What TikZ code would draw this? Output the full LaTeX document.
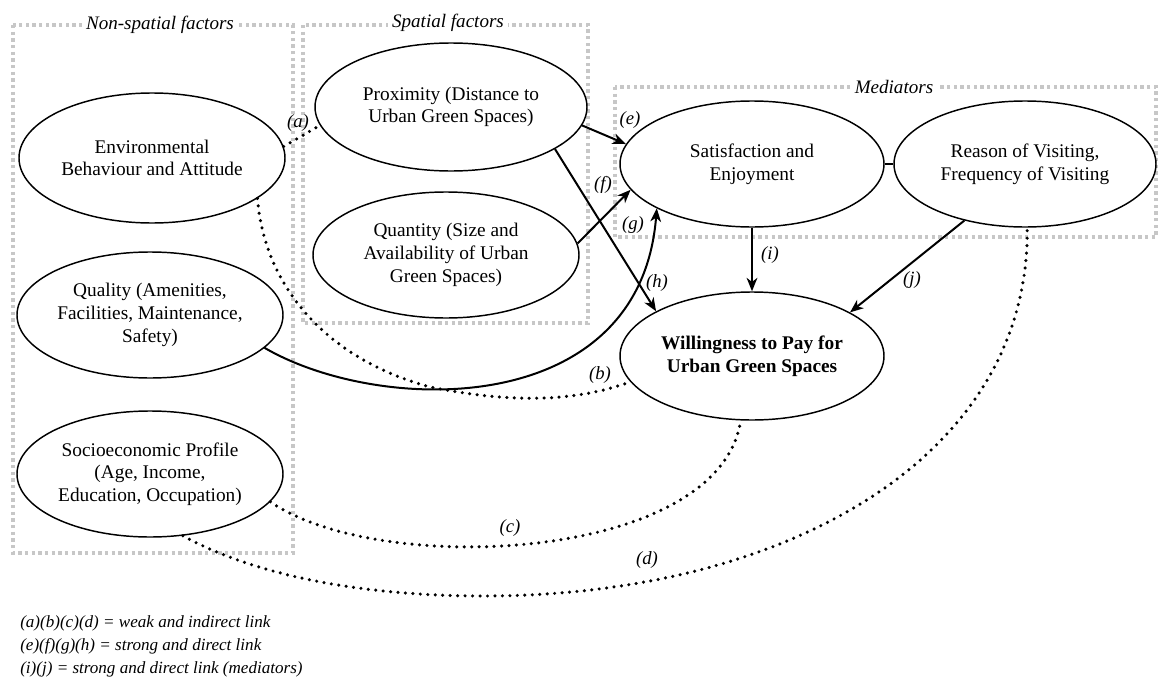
\documentclass[tikz,border=0pt]{standalone}
\usepackage{fontspec}
\setmainfont{Liberation Serif}
\usetikzlibrary{arrows.meta,shapes.geometric}
\begin{document}
\begin{tikzpicture}[x=0.75pt,y=-0.75pt,
  ell/.style 2 args={ellipse,draw,fill=white,line width=1.1pt,inner sep=0pt,
    minimum width=#1*0.75pt,minimum height=#2*0.75pt,align=center,
    font=\fontsize{14.5}{17}\selectfont},
  grp/.style={draw=black!22,line width=2.6pt,dash pattern=on 2.4pt off 2.6pt},
  grplab/.style={fill=white,inner xsep=3pt,inner ysep=1pt,font=\fontsize{14.3}{17}\selectfont\itshape},
  strongarr/.style={line width=1.5pt,-{Stealth[length=10pt,width=8pt,inset=3pt]}},
  weak/.style={line width=2.6pt,dash pattern=on 0pt off 5.6pt,line cap=round},
  lab/.style={font=\fontsize{14}{16}\selectfont\itshape,inner sep=1pt},
  leg/.style={anchor=base west,inner sep=0pt,font=\fontsize{12.8}{16}\selectfont\itshape}]
\useasboundingbox (0,0) rectangle (1158,678);

% group boxes
\draw[grp] (13,25) rectangle (293,553);
\draw[grp] (303,25) rectangle (588,323);
\draw[grp] (615,87) rectangle (1156,237);
\node[grplab] (nslab) at (160,25) {Non-spatial factors};
\node[grplab] (splab) at (448,23) {Spatial factors};
\node[grplab] (mdlab) at (894,87) {Mediators};

% ellipses
\node[ell={266}{130}] (env) at (152,158) {Environmental\\Behaviour and Attitude};
\node[ell={272}{128}] (prox) at (451,107) {Proximity (Distance to\\Urban Green Spaces)};
\node[ell={266}{126}] (quant) at (446,255) {Quantity (Size and\\Availability of Urban\\Green Spaces)};
\node[ell={266}{126}] (qual) at (150,315) {Quality (Amenities,\\Facilities, Maintenance,\\Safety)};
\node[ell={266}{126}] (socio) at (150,474) {Socioeconomic Profile\\(Age, Income,\\Education, Occupation)};
\node[ell={264}{126}] (sat) at (752,164) {Satisfaction and\\Enjoyment};
\node[ell={262}{126}] (reason) at (1025,164) {Reason of Visiting,\\Frequency of Visiting};
\node[ell={264}{128}] (wtp) at (752,356) {\bfseries Willingness to Pay for\\\bfseries Urban Green Spaces};

% weak links
\draw[weak] (env.5) -- (prox.-172);
\draw[weak] (env.-21) .. controls (265,290) and (330,360) .. (430,387)
  .. controls (520,405) and (580,400) .. (wtp.-168);
\draw[weak] (socio.-13) .. controls (380,578) and (720,562) .. (wtp.-100);
\draw[weak] (socio.-62) .. controls (260,578) and (370,596) .. (483,596)
  .. controls (790,596) and (1030,455) .. (reason.-88);

% strong links
\draw[strongarr] (prox.-8) -- (sat.171);
\draw[strongarr] (quant.5) -- (sat.-168);
\draw[strongarr] (prox.-22) -- (wtp.155);
\draw[strongarr] (qual.-16) .. controls (380,415) and (640,420) .. (sat.-155);
\draw[strongarr] (sat.south) -- (wtp.north);
\draw[strongarr] (reason.-137) -- (wtp.24);
\draw[line width=1.5pt] (sat.east) -- (reason.west);

% link labels
\node[lab] (la) at (298,123) {(a)};
\node[lab] (lb) at (600,375) {(b)};
\node[lab] (lc) at (510,528) {(c)};
\node[lab] (ld) at (647,560) {(d)};
\node[lab] (le) at (630,120) {(e)};
\node[lab] (lf) at (603,185) {(f)};
\node[lab] (lg) at (633,225) {(g)};
\node[lab] (lh) at (657,283) {(h)};
\node[lab] (li) at (770,255) {(i)};
\node[lab] (lj) at (912,280) {(j)};

% legend
\node[leg] (leg1) at (20,627) {(a)(b)(c)(d) = weak and indirect link};
\node[leg] (leg2) at (20,650) {(e)(f)(g)(h) = strong and direct link};
\node[leg] (leg3) at (20,673) {(i)(j) = strong and direct link (mediators)};
\end{tikzpicture}
\end{document}
